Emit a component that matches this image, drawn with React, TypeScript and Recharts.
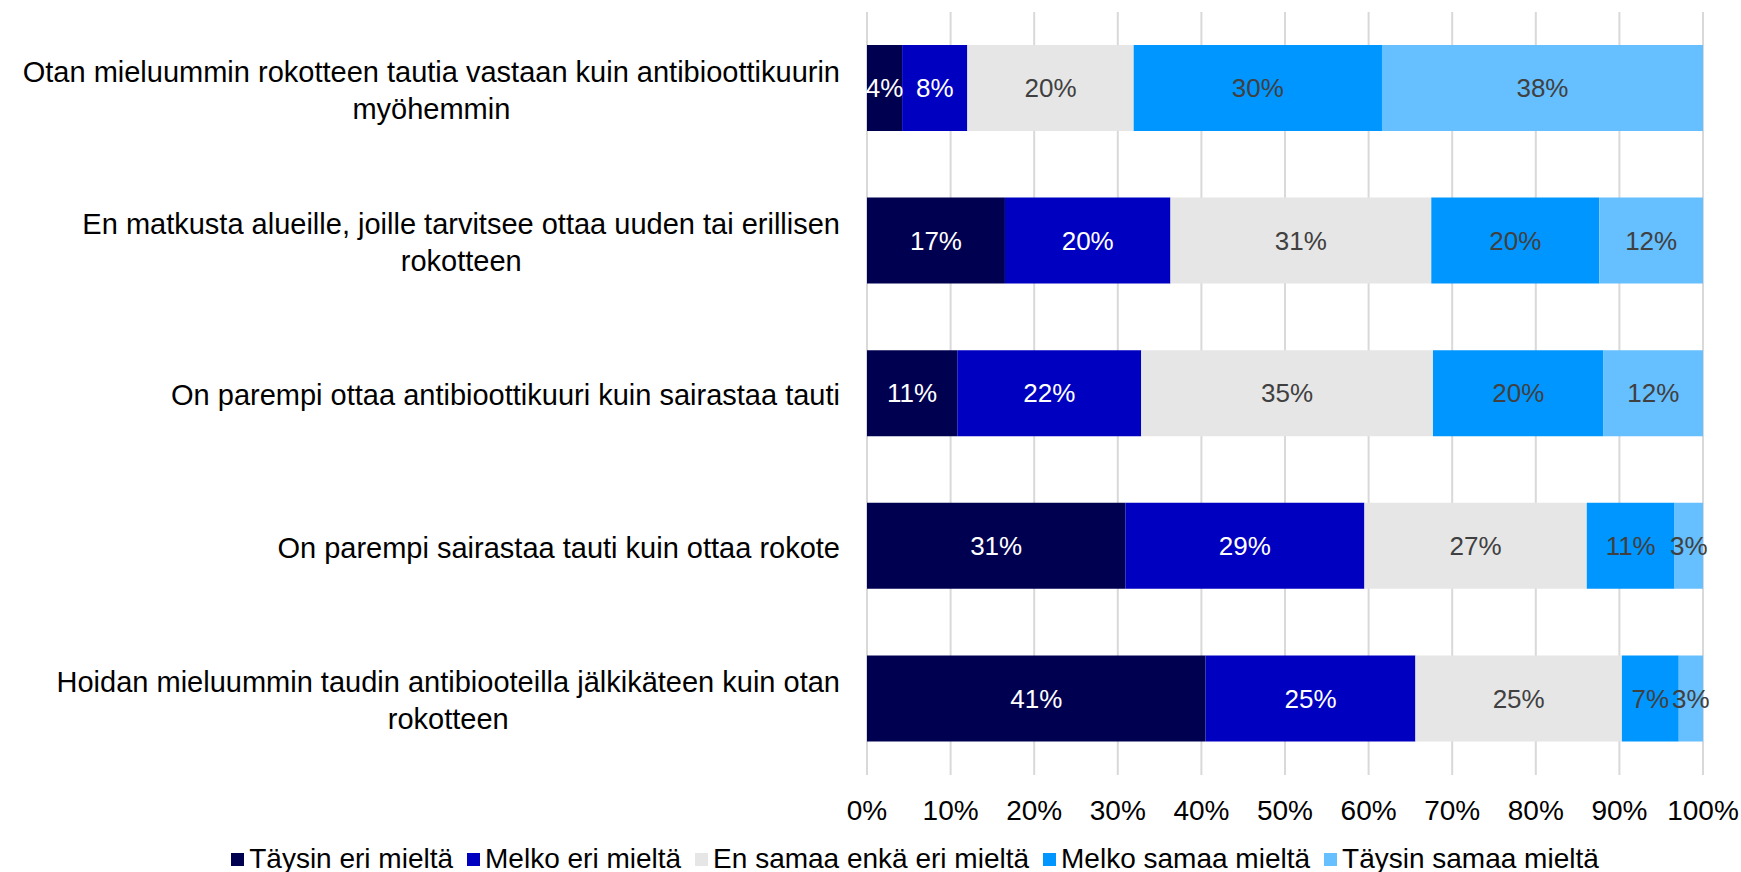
import { BarChart, Bar, XAxis, YAxis, CartesianGrid, Legend, LabelList } from 'recharts';

const categories = [
  'Otan mieluummin rokotteen tautia vastaan kuin antibioottikuurin myöhemmin',
  'En matkusta alueille, joille tarvitsee ottaa uuden tai erillisen rokotteen',
  'On parempi ottaa antibioottikuuri kuin sairastaa tauti',
  'On parempi sairastaa tauti kuin ottaa rokote',
  'Hoidan mieluummin taudin antibiooteilla jälkikäteen kuin otan rokotteen',
];

// shares in %
const taysinEri = [4.2, 16.5, 10.8, 30.9, 40.5];
const melkoEri = [7.8, 19.8, 22.0, 28.6, 25.1];
const enSamaa = [19.9, 31.2, 34.9, 26.6, 24.7];
const melkoSamaa = [29.7, 20.1, 20.4, 10.5, 6.8];
const taysinSamaa = [38.4, 12.4, 11.9, 3.4, 2.9];

const xTicks = [0, 10, 20, 30, 40, 50, 60, 70, 80, 90, 100];

const series = [
  { key: 'te', name: 'Täysin eri mieltä', color: '#000050', label: '#ffffff' },
  { key: 'me', name: 'Melko eri mieltä', color: '#0000C0', label: '#ffffff' },
  { key: 'es', name: 'En samaa enkä eri mieltä', color: '#E6E6E6', label: '#404040' },
  { key: 'ms', name: 'Melko samaa mieltä', color: '#0096FF', label: '#404040' },
  { key: 'ts', name: 'Täysin samaa mieltä', color: '#66BFFF', label: '#404040' },
];

const data = categories.map((name, i) => ({
  name,
  te: taysinEri[i],
  me: melkoEri[i],
  es: enSamaa[i],
  ms: melkoSamaa[i],
  ts: taysinSamaa[i],
}));

const FONT = '"Liberation Sans", Arial, sans-serif';
const CAT_SIZE = 29;
const LINE_H = 37;

let ctx: CanvasRenderingContext2D | null = null;
function textWidth(t: string) {
  if (!ctx) ctx = document.createElement('canvas').getContext('2d');
  if (!ctx) return t.length * CAT_SIZE * 0.5;
  ctx.font = `${CAT_SIZE}px "Liberation Sans"`;
  return ctx.measureText(t).width;
}

function wrap(text: string, maxW: number) {
  const words = text.split(' ');
  const lines: string[] = [];
  let cur = '';
  words.forEach((w) => {
    const next = cur ? cur + ' ' + w : w;
    if (cur && textWidth(next) > maxW) {
      lines.push(cur);
      cur = w;
    } else cur = next;
  });
  if (cur) lines.push(cur);
  return lines;
}

// Excel style: block right-aligned, lines centered inside the block
function CategoryTick({ x, y, payload }: any) {
  const lines = wrap(payload.value, 860);
  const blockW = Math.max(...lines.map(textWidth));
  const cx = x - 27 - blockW / 2;
  const y0 = y + 1.5 - ((lines.length - 1) * LINE_H) / 2;
  return (
    <g>
      {lines.map((l, i) => (
        <text
          key={i}
          x={cx}
          y={y0 + i * LINE_H}
          dy="0.36em"
          textAnchor="middle"
          fontSize={CAT_SIZE}
          fontFamily={FONT}
          fill="#000"
        >
          {l}
        </text>
      ))}
    </g>
  );
}

function LegendContent() {
  return (
    <div
      style={{
        display: 'flex',
        justifyContent: 'center',
        alignItems: 'center',
        fontFamily: FONT,
        fontSize: 28,
        lineHeight: '24px',
        height: 24,
        color: '#000',
        whiteSpace: 'nowrap',
      }}
    >
      {series.map((s, i) => (
        <span
          key={s.key}
          style={{ display: 'flex', alignItems: 'center', marginLeft: i === 0 ? 0 : 14 }}
        >
          <span style={{ width: 13, height: 13, background: s.color, marginRight: 5 }} />
          {s.name}
        </span>
      ))}
    </div>
  );
}

export default function App() {
  return (
    <div style={{ position: 'absolute', left: 0, top: 0, background: '#fff' }}>
      <BarChart
        layout="vertical"
        width={1741}
        height={872}
        data={data}
        margin={{ top: 12, right: 38, left: 0, bottom: 0 }}
      >
        <CartesianGrid horizontal={false} stroke="#D9D9D9" strokeWidth={2} />
        <XAxis
          type="number"
          domain={[0, 100]}
          ticks={xTicks}
          tickFormatter={(v) => `${v}%`}
          axisLine={false}
          tickLine={false}
          tickSize={0}
          tickMargin={25}
          height={57}
          interval={0}
          tick={{ fontSize: 28, fontFamily: FONT, fill: '#000' }}
        />
        <YAxis
          type="category"
          dataKey="name"
          width={867}
          axisLine={false}
          tickLine={false}
          tickSize={0}
          tickMargin={0}
          interval={0}
          tick={<CategoryTick />}
        />
        <Legend
          verticalAlign="bottom"
          content={<LegendContent />}
          wrapperStyle={{ left: 230, width: 1370, top: 847, height: 40 }}
        />
        {series.map((s) => (
          <Bar
            key={s.key}
            dataKey={s.key}
            name={s.name}
            stackId="a"
            fill={s.color}
            barSize={86}
            isAnimationActive={false}
          >
            <LabelList
              dataKey={s.key}
              position="center"
              formatter={(v: any) => `${Math.round(Number(v))}%`}
              fill={s.label}
              fontSize={26}
              fontFamily={FONT}
            />
          </Bar>
        ))}
      </BarChart>
    </div>
  );
}
